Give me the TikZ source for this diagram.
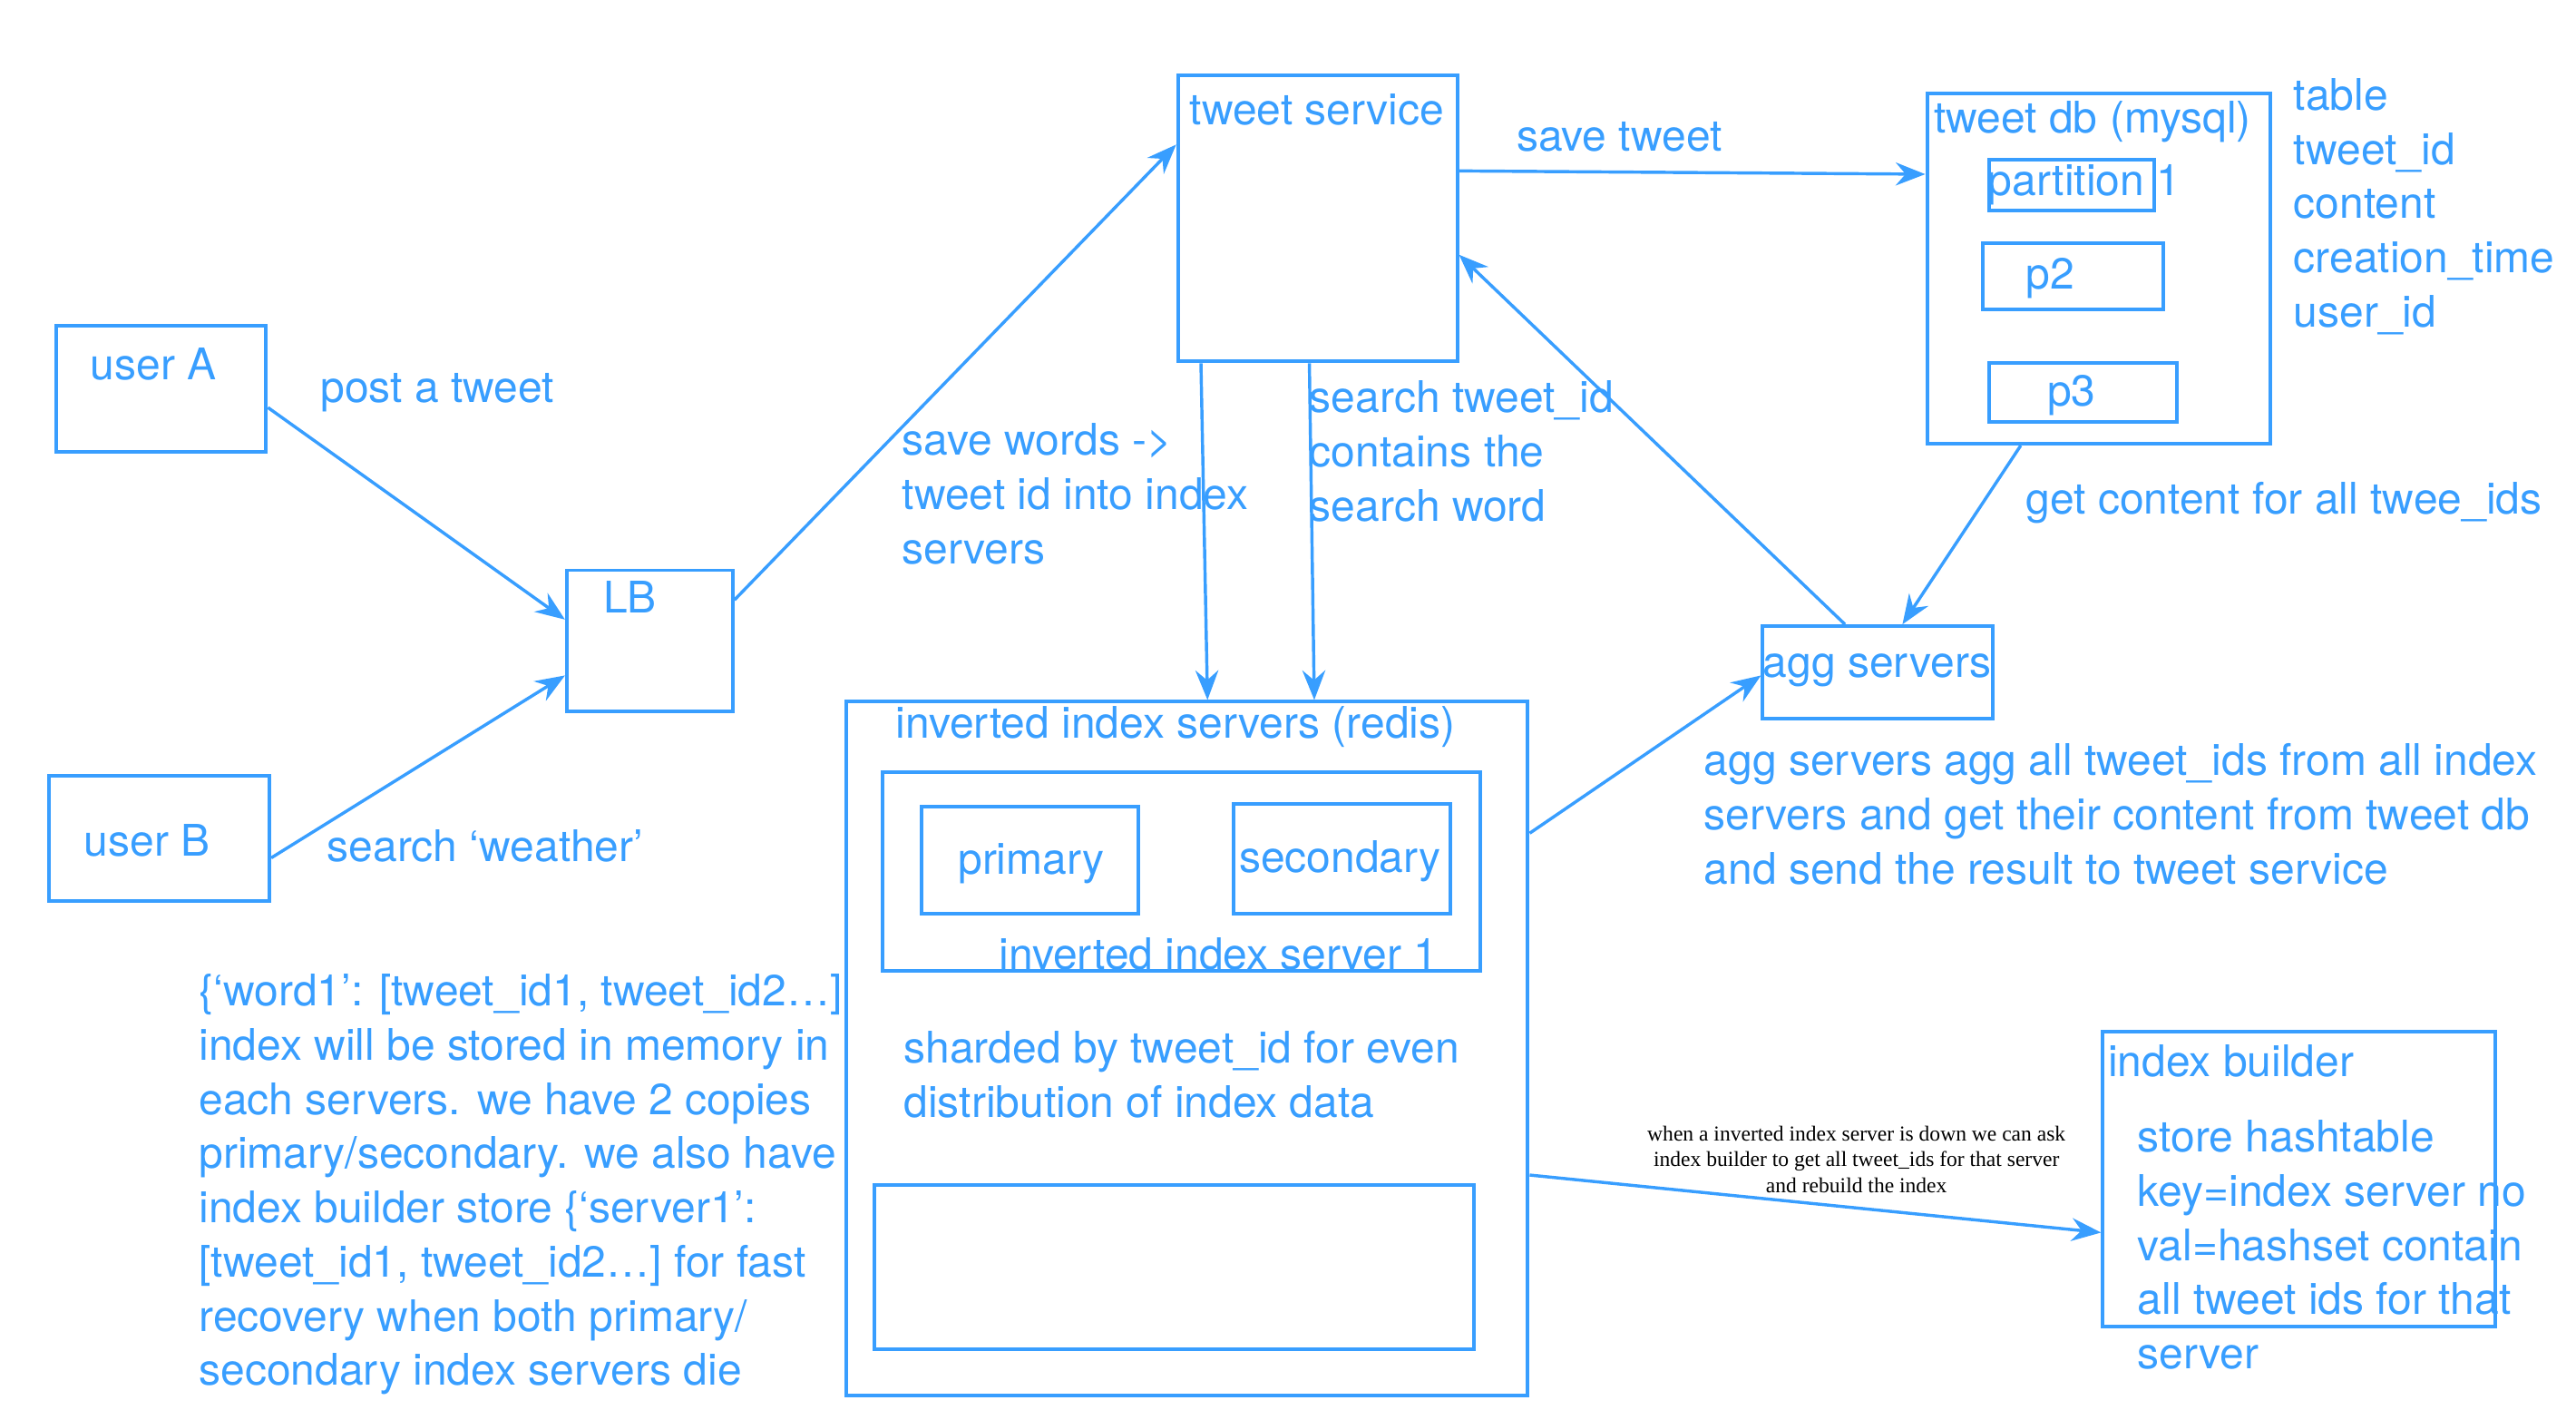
\documentclass[tikz,border=0pt]{standalone}
\usepackage{fontspec}
\setmainfont{TeX Gyre Heros}
\newfontfamily\notefont{Liberation Serif}
\usetikzlibrary{arrows.meta}
\definecolor{ink}{RGB}{56,158,255}

\begin{document}
\begin{tikzpicture}
  [x=1pt,y=-1pt,
   every node/.style={text=ink,font=\fontsize{26.5}{33}\selectfont},
   box/.style={draw=ink,line width=2.2pt,inner sep=0pt},
   txt/.style={anchor=base west,inner sep=0pt,align=left},
   link/.style={draw=ink,line width=1.9pt,-{Stealth[length=18pt,width=14pt,inset=6pt]}}]
  \useasboundingbox (0,0) rectangle (1568,864);

  % boxes
  \node[box,minimum width=128pt,minimum height=77pt] (userA) at (98,236.5) {};
  \node[box,minimum width=134pt,minimum height=76pt] (userB) at (97,510) {};
  \node[box,minimum width=101pt,minimum height=86pt] (LB) at (395.5,390) {};
  \node[box,minimum width=170pt,minimum height=174pt] (tsvc) at (802,133) {};
  \node[box,minimum width=209pt,minimum height=213pt] (tdb) at (1277.5,163.5) {};
  \node[box,minimum width=100pt,minimum height=31pt] (part1) at (1261,112.5) {};
  \node[box,minimum width=110pt,minimum height=40pt] (part2) at (1262,168) {};
  \node[box,minimum width=114pt,minimum height=36pt] (part3) at (1268,239) {};
  \node[box,minimum width=140pt,minimum height=56pt] (agg) at (1143,409) {};
  \node[box,minimum width=415pt,minimum height=422pt] (redis) at (722.5,638) {};
  \node[box,minimum width=364pt,minimum height=121pt] (srv1) at (719,530.5) {};
  \node[box,minimum width=132pt,minimum height=65pt] (prim) at (627,523.5) {};
  \node[box,minimum width=132pt,minimum height=67pt] (sec) at (817,522.5) {};
  \node[box,minimum width=365pt,minimum height=100pt] (spare) at (714.5,771) {};
  \node[box,minimum width=239pt,minimum height=179pt] (ibld) at (1399.5,717.5) {};

  % texts in the boxes (multi-line ones sit on their last line)
  \node[txt] (tA) at (55,231) {user A};
  \node[txt] (tB) at (51,521) {user B};
  \node[txt] (tLB) at (367,373) {LB};
  \node[txt] (tTS) at (724,76) {tweet service};
  \node[txt] (tDB) at (1177,81) {tweet db (mysql)};
  \node[txt] (tP1) at (1210,119) {partition 1};
  \node[txt] (tP2) at (1233,176) {p2};
  \node[txt] (tP3) at (1246,247) {p3};
  \node[txt] (tAgg) at (1073,412) {agg servers};
  \node[txt] (tRedis) at (545,449) {inverted index servers (redis)};
  \node[txt] (tPri) at (583,532) {primary};
  \node[txt] (tSec) at (754,531) {secondary};
  \node[txt] (tSrv1) at (608,590) {inverted index server 1};
  \node[txt] (tShard) at (550,680) {sharded by tweet\_id for even\\distribution of index data};
  \node[txt] (tIB) at (1283,655) {index builder};
  \node[txt] (tHash) at (1301,833) {store hashtable\\key=index server no\\val=hashset contain\\all tweet ids for that\\server};

  % free texts
  \node[txt] (cols) at (1396,199) {table\\tweet\_id\\content\\creation\_time\\user\_id};
  \node[txt] (memo) at (121,843) {\{‘word1’: {[}tweet\_id1, tweet\_id2…{]}\\index will be stored in memory in\\each servers. we have 2 copies\\primary/secondary. we also have\\index builder store \{‘server1’:\\{[}tweet\_id1, tweet\_id2…{]} for fast\\recovery when both primary/\\secondary index servers die};
  \node[txt] (lPost) at (195,245) {post a tweet};
  \node[txt] (lSearch) at (199,524) {search ‘weather’};
  \node[txt] (lSave) at (549,343) {save words ->\\tweet id into index\\servers};
  \node[txt] (lFind) at (797,317) {search tweet\_id\\contains the\\search word};
  \node[txt] (lTweet) at (923,92) {save tweet};
  \node[txt] (lGet) at (1233,313) {get content for all twee\_ids};
  \node[txt] (lAgg) at (1037,538) {agg servers agg all tweet\_ids from all index\\servers and get their content from tweet db\\and send the result to tweet service};
  \node[anchor=base,inner sep=0pt,align=center,text=black,
        font=\notefont\fontsize{13}{16}\selectfont] (lNote) at (1130,726)
    {when a inverted index server is down we can ask\\index builder to get all tweet\_ids for that server\\and rebuild the index};

  % connectors
  \draw[link] ([yshift=-11.5pt]userA.east) -- ([yshift=13pt]LB.west);
  \draw[link] ([yshift=-12pt]userB.east) -- ([yshift=-21pt]LB.west);
  \draw[link] ([yshift=25pt]LB.east) -- ([yshift=45pt]tsvc.west);
  \draw[link] ([yshift=29pt]tsvc.east) -- ([yshift=57.5pt]tdb.west);
  \draw[link] ([xshift=-71pt]tsvc.south) -- ([xshift=12.5pt]redis.north);
  \draw[link] ([xshift=-5pt]tsvc.south) -- ([xshift=77.5pt]redis.north);
  \draw[link] ([xshift=-20pt]agg.north) -- ([yshift=-22pt]tsvc.east);
  \draw[link] ([xshift=-47.5pt]tdb.south) -- ([xshift=15pt]agg.north);
  \draw[link] ([yshift=131pt]redis.east) -- ([yshift=-2pt]agg.west);
  \draw[link] ([yshift=-77pt]redis.east) -- ([yshift=-32.5pt]ibld.west);
\end{tikzpicture}
\end{document}
